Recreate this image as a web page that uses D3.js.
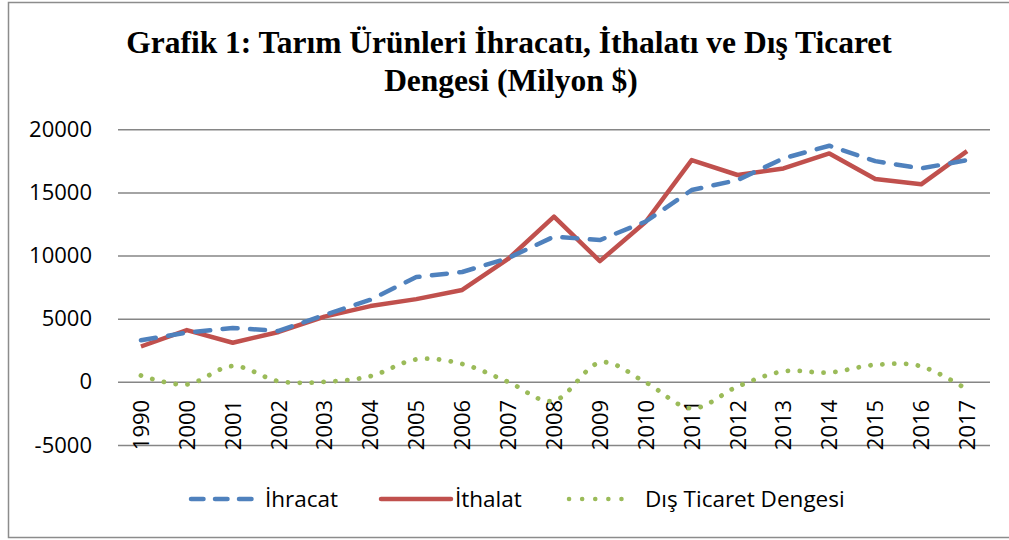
<!DOCTYPE html>
<html>
<head>
<meta charset="utf-8">
<script src="https://cdn.jsdelivr.net/npm/d3@7"></script>
<style>
  body { margin: 0; background: #fff; }
  text { font-family: "Open Sans", "Liberation Sans", sans-serif; }
</style>
</head>
<body>
<div id="chart-area"></div>
<script>
// data
var years = ["1990", "2000", "2001", "2002", "2003", "2004", "2005", "2006", "2007", "2008",
             "2009", "2010", "2011", "2012", "2013", "2014", "2015", "2016", "2017"];
var ihracat = [3300, 3900, 4270, 4030, 5300, 6500, 8300, 8700, 9800, 11500,
               11230, 12700, 15190, 15980, 17700, 18700, 17480, 16900, 17560];
var ithalat = [2800, 4100, 3100, 3950, 5170, 6000, 6550, 7280, 9730, 13080,
               9560, 12680, 17560, 16380, 16900, 18090, 16060, 15640, 18270];
var denge = [500, -200, 1250, 50, 0, 450, 1780, 1420, 0, -1500,
             1530, -50, -2100, -370, 830, 740, 1350, 1230, -600];
var yTicks = [-5000, 0, 5000, 10000, 15000, 20000];

var W = 1009, H = 540;
var margin = {left: 118, right: 19, top: 129.3, bottom: 95};
var width = W - margin.left - margin.right,
    height = H - margin.top - margin.bottom;

var svg = d3.select("#chart-area").append("svg")
    .attr("width", W)
    .attr("height", H);

// outer frame
svg.append("rect")
    .attr("x", 8.5).attr("y", 2.5)
    .attr("width", W + 10).attr("height", 535)
    .attr("fill", "none")
    .attr("stroke", "#8c8c8c")
    .attr("stroke-width", 1.5);

// title
var title = svg.append("text")
    .attr("text-anchor", "middle")
    .style("font-family", "'Liberation Serif', 'Times New Roman', serif")
    .style("font-weight", "bold")
    .style("font-size", "31.5px");
title.append("tspan").attr("x", 509).attr("y", 53)
    .text("Grafik 1: Tarım Ürünleri İhracatı, İthalatı ve Dış Ticaret");
title.append("tspan").attr("x", 511).attr("y", 91)
    .text("Dengesi (Milyon $)");

var g = svg.append("g")
    .attr("transform", "translate(" + margin.left + "," + margin.top + ")");

var x = d3.scaleBand().domain(years).range([0, width]);
var y = d3.scaleLinear().domain([-5000, 20000]).range([height, 0]);
function cx(d, i) { return x(years[i]) + x.bandwidth() / 2; }

// gridlines + y labels
var yAxis = g.append("g")
    .call(d3.axisLeft(y).tickValues(yTicks).tickSize(-width).tickPadding(26)
      .tickFormat(function (d) { return String(d); }));
yAxis.select(".domain").remove();
yAxis.selectAll("line").attr("stroke", "#868686").attr("stroke-width", 1.5);
yAxis.selectAll("text").style("font-size", "22px").attr("fill", "#000");

// category labels hang below the zero line
var xAxis = g.append("g")
    .attr("transform", "translate(0," + y(0) + ")")
    .call(d3.axisBottom(x).tickSize(0));
xAxis.select(".domain").remove();
xAxis.selectAll("text")
    .attr("transform", "rotate(-90)")
    .attr("x", -18)
    .attr("y", 0)
    .attr("dy", "0.36em")
    .style("text-anchor", "end")
    .style("font-size", "22px")
    .attr("fill", "#000");

var straight = d3.line().x(cx).y(function (d) { return y(d); });
var smooth = d3.line().x(cx).y(function (d) { return y(d); }).curve(d3.curveCatmullRom.alpha(0));

g.append("path").datum(ithalat)
    .attr("d", straight)
    .attr("fill", "none")
    .attr("stroke", "#C0504D")
    .attr("stroke-width", 4.5)
    .attr("stroke-linejoin", "round");

g.append("path").datum(ihracat)
    .attr("d", straight)
    .attr("fill", "none")
    .attr("stroke", "#4F81BD")
    .attr("stroke-width", 4.5)
    .attr("stroke-dasharray", "15 12.5")
    .attr("stroke-linecap", "round")
    .attr("stroke-linejoin", "round");

g.append("path").datum(denge)
    .attr("d", smooth)
    .attr("fill", "none")
    .attr("stroke", "#9BBB59")
    .attr("stroke-width", 4.8)
    .attr("stroke-dasharray", "0.1 11.8")
    .attr("stroke-linecap", "round");

// legend
var legend = [
  {name: "İhracat", color: "#4F81BD", dash: "12.5 11.5", x0: 191, x1: 253, w: 4.5, tx: 265},
  {name: "İthalat", color: "#C0504D", dash: null, x0: 381, x1: 451, w: 4.5, tx: 455},
  {name: "Dış Ticaret Dengesi", color: "#9BBB59", dash: "0.1 13", x0: 569, x1: 634, w: 4.5, tx: 645}
];
var lg = svg.append("g");
legend.forEach(function (d) {
  lg.append("line")
      .attr("x1", d.x0).attr("x2", d.x1)
      .attr("y1", 499).attr("y2", 499)
      .attr("stroke", d.color)
      .attr("stroke-width", d.w)
      .attr("stroke-linecap", "round")
      .attr("stroke-dasharray", d.dash);
  lg.append("text")
      .attr("x", d.tx).attr("y", 499)
      .attr("dy", "0.36em")
      .style("font-size", "22.5px")
      .text(d.name);
});
</script>
</body>
</html>
